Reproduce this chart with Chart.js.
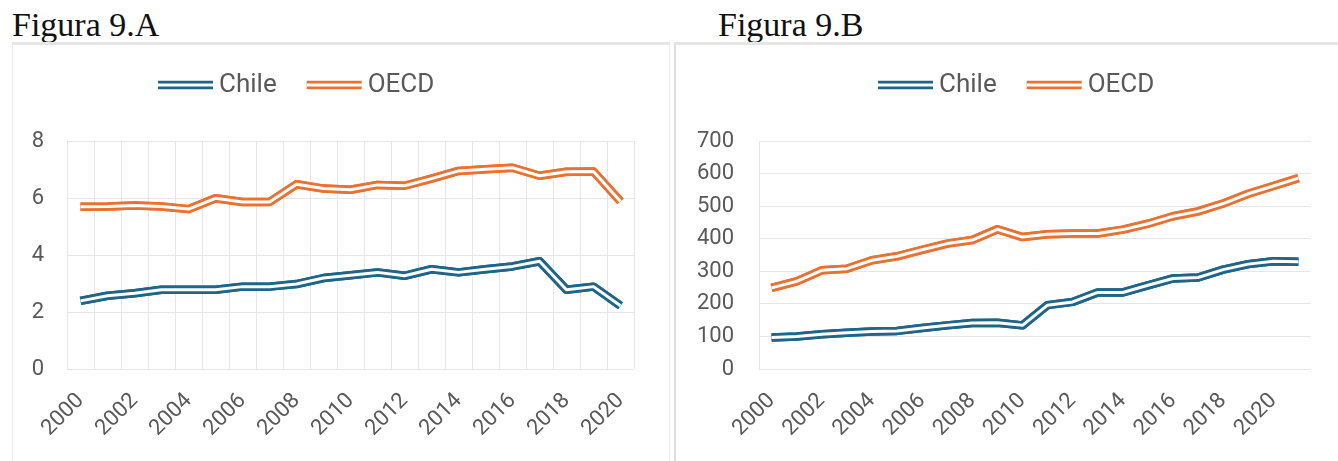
<!DOCTYPE html>
<html>
<head>
<meta charset="utf-8">
<script src="https://cdn.jsdelivr.net/npm/chart.js@4.4.1/dist/chart.umd.min.js"></script>
<style>
  html, body { margin: 0; padding: 0; background: #ffffff; }
  body { width: 1338px; height: 461px; position: relative; overflow: hidden; }
  .title {
    position: absolute; top: 8px;
    font-family: "Liberation Serif", "Times New Roman", serif;
    font-size: 34px; line-height: 1; color: #111;
  }
  .box { position: absolute; top: 42px; height: 440px; box-sizing: border-box; }
  #boxA { left: 12px; width: 658px; border-top: 3px solid #e6e6e6; border-left: 1px solid #ececec; border-right: 1px solid #ececec; }
  #boxB { left: 674px; width: 680px; border-top: 3px solid #e6e6e6; border-left: 2px solid #dedede; }
  .wrap { position: absolute; top: 45px; height: 416px; }
  #wrapA { left: 13px; width: 654px; }
  #wrapB { left: 675px; width: 663px; }
</style>
</head>
<body>
<div class="title" style="left:12px">Figura 9.A</div>
<div class="title" style="left:718px">Figura 9.B</div>
<div class="box" id="boxA"></div>
<div class="box" id="boxB"></div>
<div class="wrap" id="wrapA"><canvas id="chartA"></canvas></div>
<div class="wrap" id="wrapB"><canvas id="chartB"></canvas></div>

<script>
// Figura 9.A : 2000-2020
const yearsA = ['2000', '2001', '2002', '2003', '2004', '2005', '2006', '2007', '2008', '2009', '2010',
  '2011', '2012', '2013', '2014', '2015', '2016', '2017', '2018', '2019', '2020'];
const chileA = [2.39, 2.57, 2.66, 2.78, 2.78, 2.78, 2.89, 2.89, 2.98, 3.19, 3.29,
  3.39, 3.27, 3.50, 3.39, 3.50, 3.60, 3.78, 2.78, 2.89, 2.22];
const oecdA = [5.69, 5.70, 5.74, 5.70, 5.61, 5.99, 5.86, 5.86, 6.48, 6.33, 6.29,
  6.46, 6.43, 6.68, 6.95, 7.01, 7.06, 6.78, 6.92, 6.93, 5.88];
const yTicksA = [0, 2, 4, 6, 8];

// Figura 9.B : 2000-2021
const yearsB = ['2000', '2001', '2002', '2003', '2004', '2005', '2006', '2007', '2008', '2009', '2010',
  '2011', '2012', '2013', '2014', '2015', '2016', '2017', '2018', '2019', '2020', '2021'];
const chileB = [97, 100, 107, 111, 115, 117, 126, 134, 141, 142, 134,
  196, 206, 235, 235, 257, 278, 281, 305, 322, 331, 329];
const oecdB = [249, 269, 303, 308, 334, 346, 366, 385, 396, 429, 405,
  414, 416, 416, 428, 446, 469, 484, 508, 538, 562, 586];
const yTicksB = [0, 100, 200, 300, 400, 500, 600, 700];

const seriesNames = ['Chile', 'OECD'];
const BLUE = '#1f6587';
const ORANGE = '#e97132';
const GRID = '#e6e6e6';
const TEXT = '#595959';
const OUTER_W = 8.5;
const INNER_W = 3;

// stroke a polyline as Excel's "double" compound line: wide colour, thin white core
function strokeDouble(ctx, pts, color) {
  ctx.save();
  ctx.lineJoin = 'round';
  ctx.lineCap = 'butt';
  ctx.beginPath();
  pts.forEach((p, i) => (i ? ctx.lineTo(p.x, p.y) : ctx.moveTo(p.x, p.y)));
  ctx.strokeStyle = color;
  ctx.lineWidth = OUTER_W;
  ctx.stroke();
  ctx.strokeStyle = '#ffffff';
  ctx.lineWidth = INNER_W;
  ctx.stroke();
  ctx.restore();
}

// white core over each dataset line
const doubleLine = {
  id: 'doubleLine',
  afterDatasetsDraw(chart) {
    chart.data.datasets.forEach((ds, i) => {
      const meta = chart.getDatasetMeta(i);
      if (meta.hidden) return;
      const pts = meta.data.map(el => ({ x: el.x, y: el.y }));
      strokeDouble(chart.ctx, pts, ds.borderColor);
    });
  }
};

// legend with double-line markers, placed like the original
const doubleLegend = {
  id: 'doubleLegend',
  afterDraw(chart, args, opts) {
    const ctx = chart.ctx;
    ctx.save();
    ctx.font = opts.font;
    ctx.textBaseline = 'middle';
    ctx.textAlign = 'left';
    let x = opts.x;
    chart.data.datasets.forEach(ds => {
      strokeDouble(ctx, [{ x: x, y: opts.y }, { x: x + opts.marker, y: opts.y }], ds.borderColor);
      x += opts.marker + opts.textGap;
      ctx.fillStyle = TEXT;
      ctx.fillText(ds.label, x, opts.y);
      x += ctx.measureText(ds.label).width + opts.itemGap;
    });
    ctx.restore();
  }
};

function makeChart(canvasId, cfg) {
  const tickFont = { family: 'Roboto', size: 22 };
  return new Chart(document.getElementById(canvasId), {
    type: 'line',
    data: {
      labels: cfg.labels,
      datasets: [
        { label: seriesNames[0], data: cfg.chile, borderColor: BLUE, borderWidth: OUTER_W,
          pointRadius: 0, tension: 0, fill: false, borderJoinStyle: 'round' },
        { label: seriesNames[1], data: cfg.oecd, borderColor: ORANGE, borderWidth: OUTER_W,
          pointRadius: 0, tension: 0, fill: false, borderJoinStyle: 'round' }
      ]
    },
    options: {
      responsive: true,
      maintainAspectRatio: false,
      animation: false,
      layout: { padding: { top: 96, right: cfg.padRight, left: 0, bottom: 0 } },
      plugins: {
        legend: { display: false },
        tooltip: { enabled: false },
        doubleLegend: { x: cfg.legendX, y: 40, marker: 55, textGap: 6, itemGap: 30,
          font: '26px Roboto' }
      },
      scales: {
        x: {
          offset: true,
          grid: { display: cfg.xGrid, offset: true, color: GRID, lineWidth: 1, drawTicks: false },
          border: { display: false },
          ticks: {
            autoSkip: false,
            minRotation: 45,
            maxRotation: 45,
            padding: 19,
            color: TEXT,
            font: tickFont,
            callback: function (val, i) {
              return i % 2 === 0 ? this.getLabelForValue(val) : '';
            }
          },
          afterFit: scale => { scale.height = 92; }
        },
        y: {
          min: cfg.yTicks[0],
          max: cfg.yTicks[cfg.yTicks.length - 1],
          afterBuildTicks: scale => { scale.ticks = cfg.yTicks.map(v => ({ value: v })); },
          grid: { color: GRID, lineWidth: 1, drawTicks: false },
          border: { display: cfg.yBorder, color: GRID },
          ticks: { padding: cfg.yPad, color: TEXT, font: tickFont },
          afterFit: scale => { scale.width = cfg.yWidth; }
        }
      }
    },
    plugins: [doubleLine, doubleLegend]
  });
}

makeChart('chartA', {
  labels: yearsA, chile: chileA, oecd: oecdA, yTicks: yTicksA,
  padRight: 33, yWidth: 54, yPad: 23, xGrid: true, yBorder: false, legendX: 145
});

makeChart('chartB', {
  labels: yearsB, chile: chileB, oecd: oecdB, yTicks: yTicksB,
  padRight: 27, yWidth: 84, yPad: 25, xGrid: false, yBorder: true, legendX: 203
});
</script>
</body>
</html>
